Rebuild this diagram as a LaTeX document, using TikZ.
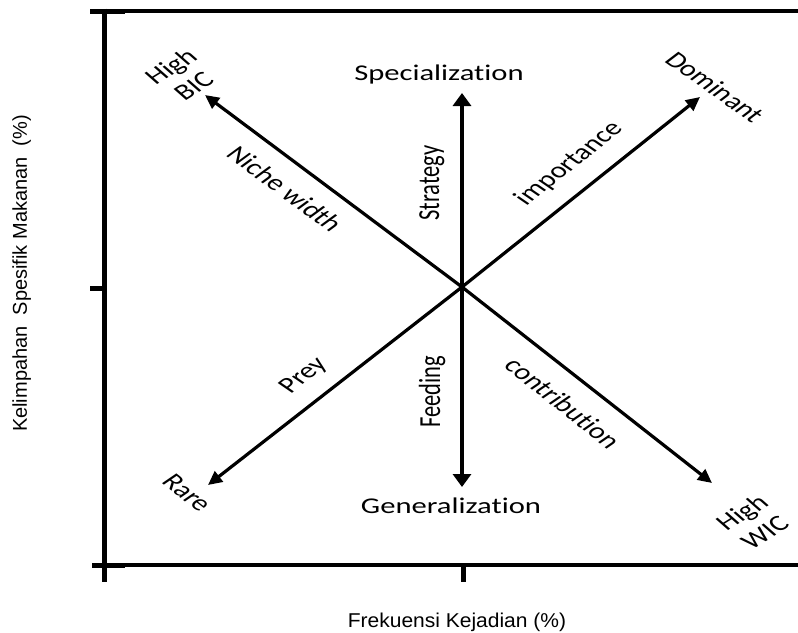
\documentclass[tikz,border=0pt]{standalone}
\usepackage{fontspec}
\setmainfont{Carlito}[Ligatures={NoCommon}]
\newfontfamily\arialfont{Liberation Sans}
\usetikzlibrary{arrows.meta}
\begin{document}
\begin{tikzpicture}[x=1pt,y=-1pt,
  lbl/.style={font=\fontsize{22.5}{26}\selectfont, inner sep=0pt, xscale=1.36},
  axlbl/.style={font=\arialfont\fontsize{20}{22}\selectfont, inner sep=0pt},
  axisline/.style={line width=3.5pt, line cap=butt},
  axisthick/.style={line width=5pt, line cap=butt},
  vertarrow/.style={line width=4.2pt, -{Triangle[length=13pt,width=18pt]}},
  diagarrow/.style={line width=3.2pt, -{Triangle[length=14pt,width=13pt]}}
]
\useasboundingbox (0,0) rectangle (798,632);
% frame / axes
\draw[axisthick] (90,11) -- (125,11);
\draw[axisline] (125,11) -- (798,11);
\draw[axisthick] (104.5,8.5) -- (104.5,582);
\draw[axisthick] (90,288) -- (104.5,288);
\draw[axisthick] (92,565) -- (125,565);
\draw[axisline] (125,565) -- (798,565);
\draw[axisthick] (463,565) -- (463,582);
% arrow geometry
\coordinate (C) at (462,287);
\coordinate (N) at (462,93);
\coordinate (S) at (462,487);
\coordinate (NW) at (205,95);
\coordinate (NE) at (700,97);
\coordinate (SW) at (208,485);
\coordinate (SE) at (712,483);
\draw[vertarrow] (C) -- (N);
\draw[vertarrow] (C) -- (S);
\draw[diagarrow] (C) -- (NW);
\draw[diagarrow] (C) -- (NE);
\draw[diagarrow] (C) -- (SW);
\draw[diagarrow] (C) -- (SE);
% labels
\node[lbl, anchor=base] (spec) at (439,80) {Specialization};
\node[lbl, anchor=base] (gen) at (451,513) {Generalization};
\node[lbl, rotate=90, anchor=base] (strat) at (439,183) {Strategy};
\node[lbl, rotate=90, anchor=base] (feed) at (440,392) {Feeding};
\node[lbl, rotate=40, align=center] (bic) at (182,76) {High\\BIC};
\node[lbl, rotate=-44] (dom) at (715,87) {Dominant};
\node[lbl, rotate=-45] (niche) at (285,189) {Niche width};
\node[lbl, rotate=47] (imp) at (569,164) {importance};
\node[lbl, rotate=47] (prey) at (304,376) {Prey};
\node[lbl, rotate=-47] (rare) at (187,493) {Rare};
\node[lbl, rotate=-47] (contr) at (563,403) {contribution};
\node[lbl, rotate=40, align=center] (wic) at (753,522) {High\\WIC};
% axis titles
\node[axlbl, anchor=base, xscale=1.05] (xlab) at (457,627) {Frekuensi Kejadian (\%)};
\node[axlbl, rotate=90, anchor=base] (ylab) at (27,273.5) {Kelimpahan\ \ Spesifik Makanan\ \ (\%)};
\end{tikzpicture}
\end{document}
